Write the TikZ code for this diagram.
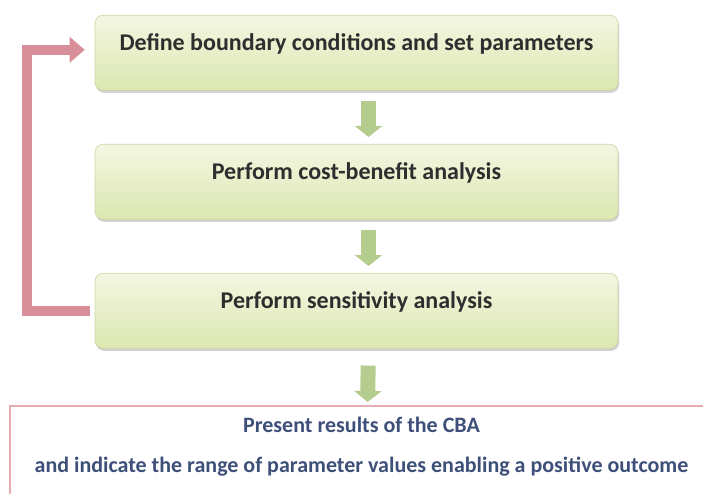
\documentclass[tikz,border=0pt]{standalone}
\usepackage{fontspec}
\setmainfont{Carlito}
\usetikzlibrary{shadows,arrows.meta}
\definecolor{boxtop}{HTML}{F3F7E2}
\definecolor{boxbot}{HTML}{DCE7B0}
\definecolor{boxedge}{HTML}{CBD6A6}
\definecolor{garrow}{HTML}{B4CD8E}
\definecolor{rarrow}{HTML}{D98F99}
\definecolor{resedge}{HTML}{E5ADB3}
\definecolor{restext}{HTML}{3E5079}
\definecolor{steptext}{HTML}{2E2E2E}
\tikzset{
  stepbox/.style={rectangle, rounded corners=8pt, minimum width=523pt,
    top color=boxtop, bottom color=boxbot, draw=boxedge, line width=0.6pt,
    drop shadow={shadow xshift=1pt, shadow yshift=-2.5pt, opacity=0.3, fill=black!60},
    inner ysep=0pt, text height=35pt, text depth=40pt,
    font=\fontsize{24}{28}\selectfont\bfseries, text=steptext},
  resbox/.style={rectangle, draw=resedge, line width=1.5pt, fill=white,
    minimum width=703pt, inner ysep=0pt, text height=67pt, text depth=40pt,
    align=center, font=\fontsize{22}{27}\selectfont\bfseries, text=restext},
  garr/.style={draw=garrow, line width=15pt,
    -{Triangle[width=27pt,length=11pt]}},
  rarr/.style={draw=rarrow, line width=10pt, line join=miter,
    -{Triangle[width=25pt,length=15pt]}}
}
\begin{document}
\begin{tikzpicture}[x=1pt,y=-1pt]
\useasboundingbox (0,0) rectangle (703,494);
\node[stepbox, anchor=north] (b1) at (356.5,15) {Define boundary conditions and set parameters};
\node[stepbox, anchor=north] (b2) at (356.5,144) {Perform cost-benefit analysis};
\node[stepbox, anchor=north] (b3) at (356.5,273) {Perform sensitivity analysis};
\node[resbox, anchor=north] (b4) at (361.5,405) {Present results of the CBA\\[13pt]and indicate the range of parameter values enabling a positive outcome};
\draw[garr, shorten <=10pt, shorten >=7pt] ([xshift=12pt]b1.south) -- ([xshift=12pt]b2.north);
\draw[garr, shorten <=10pt, shorten >=7pt] ([xshift=12pt]b2.south) -- ([xshift=12pt]b3.north);
\draw[garr, shorten <=17pt, shorten >=3pt] ([xshift=12pt]b3.south) -- ([xshift=6pt]b4.north);
\draw[rarr, shorten <=5pt, shorten >=10pt] (b3.west) -- ++(-68,0) |- ([yshift=3pt]b1.west);
\end{tikzpicture}
\end{document}
